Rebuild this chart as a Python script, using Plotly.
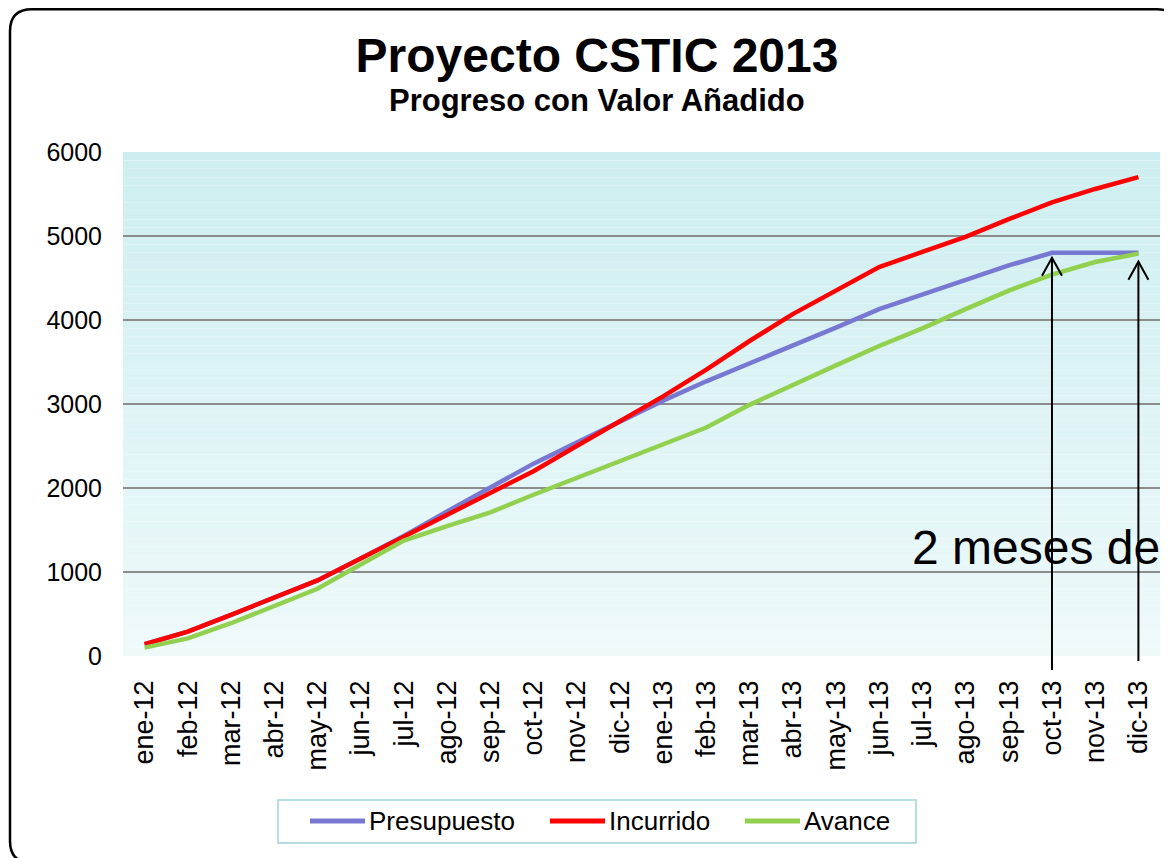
import plotly.graph_objects as go

meses = ["ene-12", "feb-12", "mar-12", "abr-12", "may-12", "jun-12", "jul-12", "ago-12",
         "sep-12", "oct-12", "nov-12", "dic-12", "ene-13", "feb-13", "mar-13", "abr-13",
         "may-13", "jun-13", "jul-13", "ago-13", "sep-13", "oct-13", "nov-13", "dic-13"]
presupuesto = [140, 290, 490, 690, 900, 1160, 1430, 1720, 2000, 2290, 2540, 2790,
               3040, 3270, 3480, 3690, 3910, 4130, 4300, 4480, 4650, 4800, 4800, 4800]
incurrido = [140, 290, 490, 700, 900, 1160, 1420, 1680, 1930, 2200, 2500, 2790,
             3090, 3410, 3750, 4070, 4350, 4630, 4810, 4990, 5200, 5400, 5560, 5700]
avance = [100, 210, 390, 590, 800, 1090, 1375, 1545, 1710, 1920, 2120, 2310,
          2510, 2720, 2990, 3230, 3460, 3690, 3900, 4130, 4350, 4540, 4690, 4790]
series_names = ["Presupuesto", "Incurrido", "Avance"]
series_colors = ["#7878D2", "#FF0000", "#92D050"]
y_ticks = [0, 1000, 2000, 3000, 4000, 5000, 6000]

# the page body has an 8px margin: work in window pixels and shift by OFF
OFF = 8
W, H = 1172 - OFF, 858 - OFF
L, R, T, B = 123 - OFF, 1160 - OFF, 152 - OFF, 656 - OFF
FONT = "Liberation Sans, Arial, sans-serif"

def X(px):  # window px -> paper x
    return (px - OFF - L) / (R - L)

def Y(py):  # window py -> paper y
    return (B - (py - OFF)) / (B - T)

fig = go.Figure()
for name, vals, col in zip(series_names, [presupuesto, incurrido, avance], series_colors):
    fig.add_trace(go.Scatter(x=meses, y=vals, mode="lines", name=name,
                             line=dict(color=col, width=4.5), showlegend=False))

shapes = []
# gradient background of plot area
N = 60
top_c = (205, 238, 240)
bot_c = (238, 249, 250)
for i in range(N):
    t = (i + 0.5) / N
    c = tuple(round(bot_c[k] + (top_c[k] - bot_c[k]) * t) for k in range(3))
    shapes.append(dict(type="rect", xref="paper", yref="paper", x0=0, x1=1,
                       y0=i / N, y1=(i + 1) / N, layer="below",
                       line=dict(width=0), fillcolor="rgb(%d,%d,%d)" % c))

# outer rounded border (window px)
bl, bt, br, bb, rr = 10, 9.3, 1179, 863, 22
path = (f"M {X(bl)},{Y(bt + rr)} Q {X(bl)},{Y(bt)} {X(bl + rr)},{Y(bt)} "
        f"L {X(br - rr)},{Y(bt)} Q {X(br)},{Y(bt)} {X(br)},{Y(bt + rr)} "
        f"L {X(br)},{Y(bb - rr)} Q {X(br)},{Y(bb)} {X(br - rr)},{Y(bb)} "
        f"L {X(bl + rr)},{Y(bb)} Q {X(bl)},{Y(bb)} {X(bl)},{Y(bb - rr)} Z")
shapes.append(dict(type="path", xref="paper", yref="paper", path=path,
                   line=dict(color="#000000", width=2.5), layer="above"))

annotations = []

# legend (frame, line samples, labels) in window px
shapes.append(dict(type="rect", xref="paper", yref="paper",
                   x0=X(278), x1=X(916), y0=Y(843), y1=Y(800), layer="below",
                   line=dict(color="#B7DDE3", width=2), fillcolor="white"))
leg_y = 821
for name, col, sx in zip(series_names, series_colors, [310, 550, 745]):
    shapes.append(dict(type="line", xref="paper", yref="paper",
                       x0=X(sx), x1=X(sx + 55), y0=Y(leg_y), y1=Y(leg_y),
                       line=dict(color=col, width=5)))
    annotations.append(dict(text=name, xref="paper", yref="paper", x=X(sx + 57), y=Y(leg_y),
                            xanchor="left", yanchor="middle", showarrow=False,
                            font=dict(family=FONT, size=26, color="black")))

# arrows at oct-13 and dic-13
ymax = y_ticks[-1]
for idx, tip_val, tip_off, bottom_px in [(21, presupuesto[21], 5, 670), (23, avance[23], 8, 661)]:
    tip = tip_val / ymax - tip_off / (B - T)
    shapes.append(dict(type="line", xref="x", yref="paper", x0=idx, x1=idx,
                       y0=Y(bottom_px), y1=tip, line=dict(color="black", width=2)))
    arm = tip - 18 / (B - T)
    shapes.append(dict(type="path", xref="x", yref="paper", xsizemode="pixel", xanchor=idx,
                       path=f"M -10,{arm} L 0,{tip} L 10,{arm}",
                       line=dict(color="black", width=2)))

annotations += [
    dict(text="<b>Progreso con Valor Añadido</b>", xref="paper", yref="paper",
         x=X(597), y=Y(101), xanchor="center", yanchor="middle", showarrow=False,
         font=dict(family=FONT, size=31, color="black")),
    dict(text="2 meses de", xref="paper", yref="paper", x=X(910), y=Y(547),
         xanchor="left", yanchor="middle", showarrow=False,
         font=dict(family=FONT, size=48, color="black")),
]

fig.update_layout(
    width=W, height=H,
    margin=dict(l=L, r=W - R, t=T, b=H - B),
    paper_bgcolor="white", plot_bgcolor="rgba(0,0,0,0)",
    title=dict(text="<b>Proyecto CSTIC 2013</b>", x=X(597), xref="paper", xanchor="center",
               y=1 - (55 - OFF) / H, yref="container", yanchor="middle",
               font=dict(family=FONT, size=48, color="black")),
    font=dict(family=FONT, color="black"),
    shapes=shapes, annotations=annotations,
    showlegend=False,
)
fig.update_xaxes(type="category", range=[-0.5, len(meses) - 0.5], tickangle=-90,
                 showgrid=False, zeroline=False, showline=False, ticks="",
                 ticklabelstandoff=18, tickfont=dict(family=FONT, size=27, color="black"))
fig.update_yaxes(range=[0, ymax], tickvals=y_ticks, showgrid=True, gridcolor="#8C8C8C",
                 gridwidth=1.5, zeroline=False, showline=False, ticks="",
                 ticklabelstandoff=20, tickfont=dict(family=FONT, size=25, color="black"))

fig.write_html("out.html")
